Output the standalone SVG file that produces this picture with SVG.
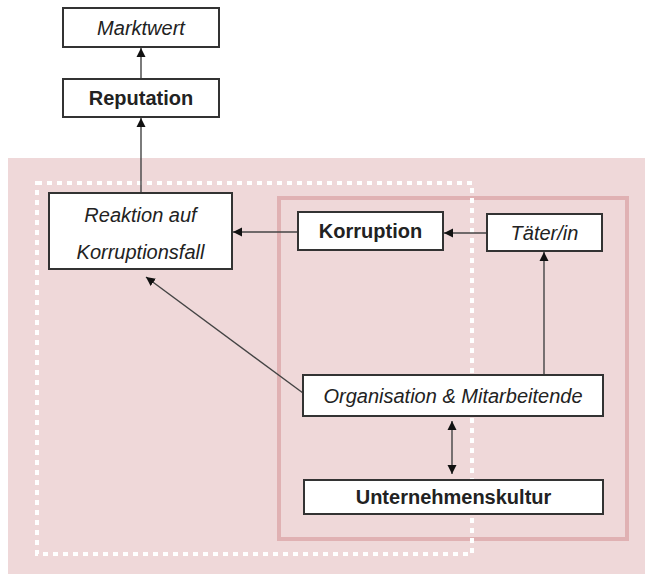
<svg xmlns="http://www.w3.org/2000/svg" width="645" height="574" viewBox="0 0 645 574">
<style>
.box{fill:#ffffff;stroke:#333333;stroke-width:2}
.t{font-family:"Liberation Sans",Arial,sans-serif;font-size:20px;fill:#222222;text-anchor:middle}
.i{font-style:italic}
.b{font-weight:bold}
.c{stroke:#444444;stroke-width:1.4;fill:none}
</style>
<defs>
<marker id="ah" viewBox="0 0 10 10" refX="10" refY="5" markerWidth="9" markerHeight="10" markerUnits="userSpaceOnUse" orient="auto-start-reverse">
<path d="M0,0 L10,5 L0,10 Z" fill="#111111"/>
</marker>
</defs>
<g id="background">
<rect x="8" y="158" width="637" height="416" fill="#efd8d9"/>
<rect x="279" y="198" width="348" height="341" fill="none" stroke="#e0b1b3" stroke-width="4"/>
<rect x="37" y="183" width="435" height="371" fill="none" stroke="#ffffff" stroke-width="4" stroke-dasharray="5 5"/>
</g>
<g id="connectors">
<line class="c" x1="141" y1="79" x2="141" y2="48" marker-end="url(#ah)"/>
<line class="c" x1="141" y1="193" x2="141" y2="118" marker-end="url(#ah)"/>
<line class="c" x1="298" y1="232" x2="233" y2="232" marker-end="url(#ah)"/>
<line class="c" x1="487" y1="233" x2="444" y2="233" marker-end="url(#ah)"/>
<line class="c" x1="544" y1="375" x2="544" y2="252" marker-end="url(#ah)"/>
<line class="c" x1="303" y1="393" x2="146" y2="277" marker-end="url(#ah)"/>
<line class="c" x1="452" y1="421" x2="452" y2="474" marker-start="url(#ah)" marker-end="url(#ah)"/>
</g>
<g id="marktwert">
<rect class="box" x="63" y="8" width="156" height="39"/>
<text class="t i" x="141" y="35">Marktwert</text>
</g>
<g id="reputation">
<rect class="box" x="63" y="79" width="156" height="38"/>
<text class="t b" x="141" y="105">Reputation</text>
</g>
<g id="reaktion">
<rect class="box" x="49" y="193" width="183" height="76"/>
<text class="t i" x="140.5" y="222">Reaktion auf</text>
<text class="t i" x="140.5" y="259">Korruptionsfall</text>
</g>
<g id="korruption">
<rect class="box" x="298" y="212" width="145" height="38"/>
<text class="t b" x="370.5" y="238">Korruption</text>
</g>
<g id="taeter">
<rect class="box" x="487" y="214" width="115" height="37"/>
<text class="t i" x="544.5" y="240">Täter/in</text>
</g>
<g id="organisation">
<rect class="box" x="303" y="375" width="300" height="41"/>
<text class="t i" x="453" y="403">Organisation &amp; Mitarbeitende</text>
</g>
<g id="unternehmenskultur">
<rect class="box" x="304" y="480" width="299" height="34"/>
<text class="t b" x="453.5" y="504">Unternehmenskultur</text>
</g>
</svg>
